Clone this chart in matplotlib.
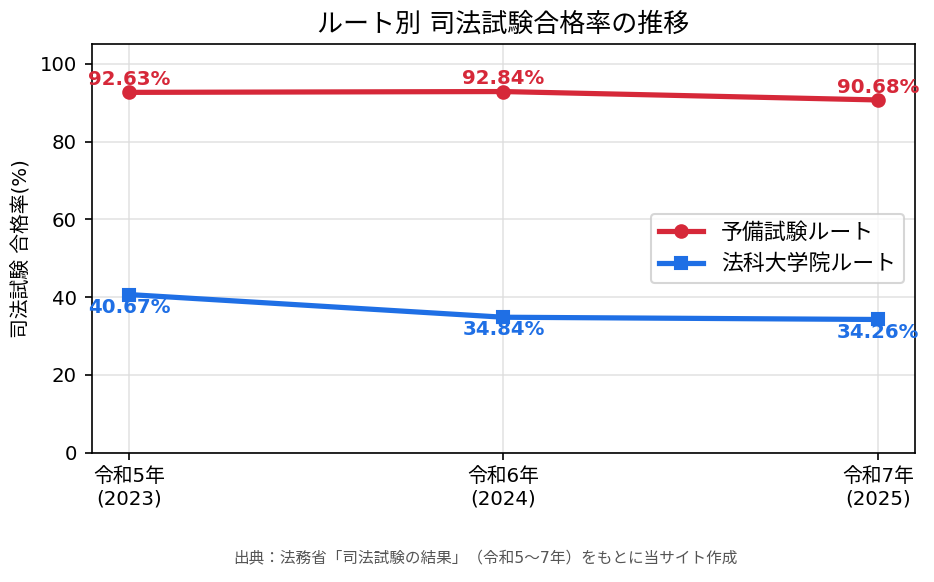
import matplotlib
matplotlib.use('Agg')
import matplotlib.pyplot as plt

plt.rcParams['font.family'] = ['DejaVu Sans', 'Noto Sans CJK JP']

years = ['令和5年\n(2023)', '令和6年\n(2024)', '令和7年\n(2025)']
yobi = [92.63, 92.84, 90.68]
houka = [40.67, 34.84, 34.26]

red = '#d62839'
blue = '#1f6fe5'

fig, ax = plt.subplots(figsize=(6.227, 3.88), dpi=150)
x = list(range(len(years)))

ax.plot(x, yobi, color=red, lw=2.5, marker='o', ms=6, label='予備試験ルート')
ax.plot(x, houka, color=blue, lw=2.5, marker='s', ms=6, label='法科大学院ルート')

for xi, v in zip(x, yobi):
    ax.annotate(f'{v:.2f}%', (xi, v), xytext=(0, 1.5), textcoords='offset points',
                ha='center', va='bottom', color=red, fontsize=9.5, fontweight='bold')
for xi, v in zip(x, houka):
    ax.annotate(f'{v:.2f}%', (xi, v), xytext=(0, -1.5), textcoords='offset points',
                ha='center', va='top', color=blue, fontsize=9.5, fontweight='bold')

ax.set_xticks(x)
ax.set_xticklabels(years, fontsize=9.5)
ax.set_xlim(-0.1, 2.1)
ax.set_ylim(0, 105)
ax.tick_params(axis='y', labelsize=9.5)
ax.set_ylabel('司法試験 合格率(%)', fontsize=9.5)
ax.set_title('ルート別 司法試験合格率の推移', fontsize=12.5)
ax.grid(True, color='#dddddd', lw=0.8, alpha=0.8)
ax.legend(loc='center right', fontsize=10.5)

fig.subplots_adjust(left=0.098, right=0.98, top=0.924, bottom=0.222)
fig.text(0.52, 0.04, '出典：法務省「司法試験の結果」（令和5〜7年）をもとに当サイト作成',
         ha='center', va='center', fontsize=7.5, color='#555555')

fig.savefig('out.png', dpi=150)
